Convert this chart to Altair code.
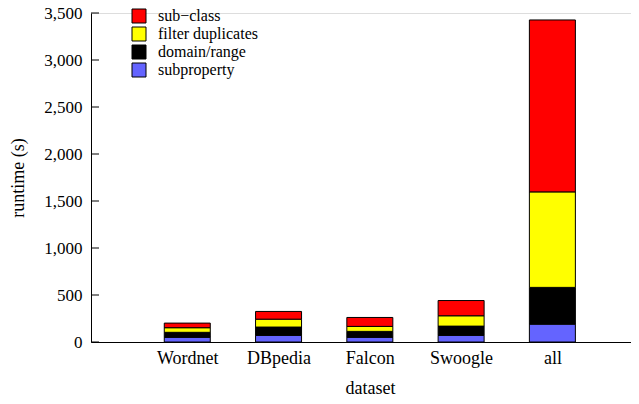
import altair as alt
import pandas as pd

datasets = ["Wordnet", "DBpedia", "Falcon", "Swoogle", "all"]
components = ["sub−class", "filter duplicates", "domain/range", "subproperty"]
colors = ["#ff0000", "#ffff00", "#000000", "#6464ff"]

subproperty = [50, 71, 50, 71, 190]
domain_range = [53, 88, 63, 98, 391]
filter_duplicates = [49, 84, 53, 110, 1016]
sub_class = [49, 82, 95, 162, 1829]

y_ticks = [0, 500, 1000, 1500, 2000, 2500, 3000, 3500]

series = {
    "subproperty": subproperty,
    "domain/range": domain_range,
    "filter duplicates": filter_duplicates,
    "sub−class": sub_class,
}
stack_order = {"subproperty": 0, "domain/range": 1, "filter duplicates": 2, "sub−class": 3}

rows = []
for comp, vals in series.items():
    for i, (ds, v) in enumerate(zip(datasets, vals)):
        rows.append({"dataset": ds, "pos": i + 1, "component": comp,
                     "value": v, "ord": stack_order[comp]})
df = pd.DataFrame(rows)
ticks_df = pd.DataFrame({"t": y_ticks})

FONT = "Liberation Serif"
label_expr = "[" + ",".join(["''"] + ["'" + d + "'" for d in datasets]) + "][datum.value]"

W, H = 540, 329
yscale = alt.Scale(domain=[0, 3500], nice=False)

bars = alt.Chart(df).mark_bar(size=46, stroke="black", strokeWidth=1).encode(
    x=alt.X("pos:Q",
            scale=alt.Scale(domain=[0, W / 93], nice=False, zero=False),
            axis=alt.Axis(values=[1, 2, 3, 4, 5], labelExpr=label_expr,
                          ticks=False, grid=False, title="dataset",
                          labelFont=FONT, labelFontSize=18, labelColor="black",
                          labelPadding=7, labelFontWeight="normal",
                          titleFont=FONT, titleFontSize=18, titleColor="black",
                          titleFontWeight="normal", titleX=279, titleY=51,
                          titleBaseline="alphabetic", titleAlign="center",
                          domainColor="black", domainWidth=1)),
    y=alt.Y("value:Q", stack="zero", scale=yscale,
            axis=alt.Axis(values=y_ticks, format=",d", ticks=False, grid=False,
                          title="runtime (s)",
                          labelFont=FONT, labelFontSize=17, labelColor="black",
                          labelPadding=9,
                          titleFont=FONT, titleFontSize=18, titleColor="black",
                          titleFontWeight="normal", titleX=-68, titleY=H / 2,
                          titleBaseline="alphabetic", titleAlign="center",
                          domainColor="black", domainWidth=1)),
    color=alt.Color("component:N",
                    scale=alt.Scale(domain=components, range=colors),
                    legend=alt.Legend(title=None, orient="none", legendX=40, legendY=-5,
                                      symbolType="square", symbolSize=196,
                                      symbolStrokeColor="black", symbolStrokeWidth=1,
                                      symbolOpacity=1,
                                      labelFont=FONT, labelFontSize=16, labelColor="black",
                                      labelOffset=11, rowPadding=0)),
    order=alt.Order("ord:Q", sort="ascending"),
)

tick_rules = alt.Chart(ticks_df).mark_rule(color="black", strokeWidth=1).encode(
    y=alt.Y("t:Q", scale=yscale),
    x=alt.value(0),
    x2=alt.value(8),
)

chart = alt.layer(bars, tick_rules).properties(
    width=W, height=H,
    autosize=alt.AutoSizeParams(type="none"),
    padding={"left": 83, "top": 5, "right": 0, "bottom": 54},
).configure_view(stroke=None).configure(background="white")

chart.save("out.html", embed_options={"renderer": "svg", "actions": False})
